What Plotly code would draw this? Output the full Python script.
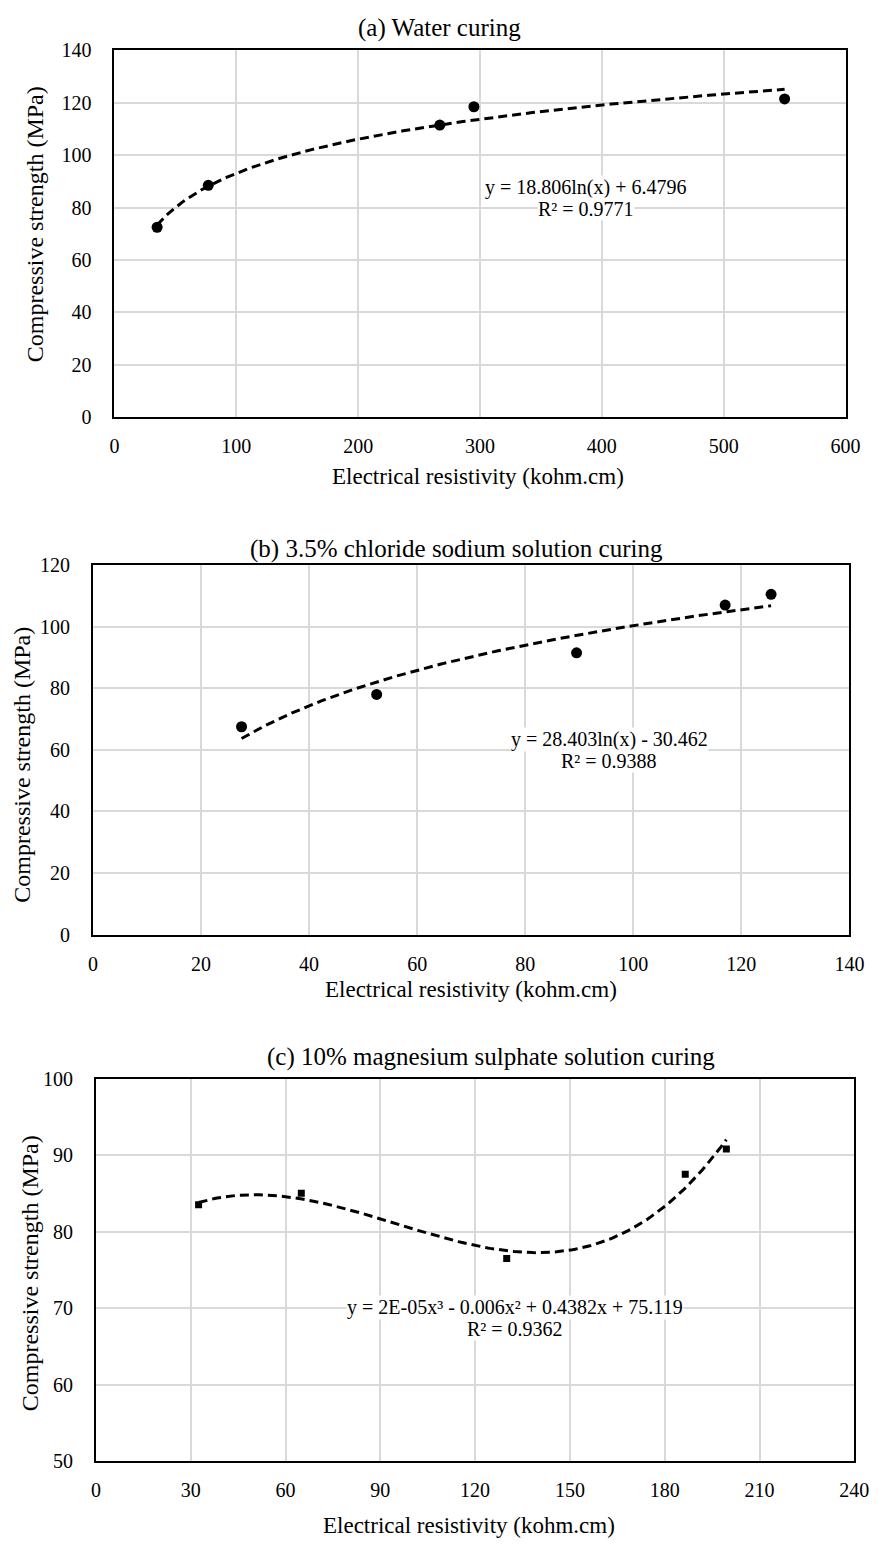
import numpy as np
import plotly.graph_objects as go

# ---- data ----
xa = [35, 77, 267, 295, 550]
ya = [72.5, 88.5, 111.5, 118.5, 121.5]
xb = [27.5, 52.5, 89.5, 117, 125.5]
yb = [67.5, 78, 91.5, 107, 110.5]
xc = [32.5, 65, 130, 186.5, 199.5]
yc = [83.5, 85, 76.5, 87.5, 90.8]

titles = ["(a) Water curing", "(b) 3.5% chloride sodium solution curing",
          "(c) 10% magnesium sulphate solution curing"]
eq1 = ["y = 18.806ln(x) + 6.4796", "y = 28.403ln(x) - 30.462",
       "y = 2E-05x³ - 0.006x² + 0.4382x + 75.119"]
eq2 = ["R² = 0.9771", "R² = 0.9388", "R² = 0.9362"]
xlabel = "Electrical resistivity (kohm.cm)"
ylabel = "Compressive strength (MPa)"

W, H = 883, 1549
FONT = "Liberation Serif, Times New Roman, serif"

def px(x):
    return x / W

def py(y):
    return 1 - y / H

fig = go.Figure()

# trendlines
ta = np.linspace(min(xa), max(xa), 200)
fa = 18.806 * np.log(ta) + 6.4796
tb = np.linspace(min(xb), max(xb), 200)
fb = 28.403 * np.log(tb) - 30.462
coef = np.polyfit(xc, yc, 3)
tc = np.linspace(min(xc), max(xc), 200)
fc = np.polyval(coef, tc)

dash = dict(color="black", width=3, dash="9px,5px")
fig.add_trace(go.Scatter(x=ta, y=fa, mode="lines", line=dash, xaxis="x", yaxis="y"))
fig.add_trace(go.Scatter(x=xa, y=ya, mode="markers", marker=dict(color="black", size=11), xaxis="x", yaxis="y"))
fig.add_trace(go.Scatter(x=tb, y=fb, mode="lines", line=dash, xaxis="x2", yaxis="y2"))
fig.add_trace(go.Scatter(x=xb, y=yb, mode="markers", marker=dict(color="black", size=11), xaxis="x2", yaxis="y2"))
fig.add_trace(go.Scatter(x=tc, y=fc, mode="lines", line=dash, xaxis="x3", yaxis="y3"))
fig.add_trace(go.Scatter(x=xc, y=yc, mode="markers", marker=dict(color="black", size=7, symbol="square"), xaxis="x3", yaxis="y3"))

axcommon = dict(showline=True, linecolor="black", linewidth=2, mirror=True,
                showgrid=True, gridcolor="#d9d9d9", gridwidth=1.5, zeroline=False,
                ticks="", tickfont=dict(family=FONT, size=20, color="black"))

boxes = [
    dict(x0=112, x1=860, y0=412, y1=40, xr=[0, 600], xd=100, yr=[0, 140], yd=20),
    dict(x0=90, x1=864, y0=937, y1=562, xr=[0, 140], xd=20, yr=[0, 120], yd=20),
    dict(x0=93, x1=869, y0=1471, y1=1083, xr=[0, 240], xd=30, yr=[50, 100], yd=10),
]
layout = {}
for i, b in enumerate(boxes):
    s = "" if i == 0 else str(i + 1)
    layout["xaxis" + s] = dict(axcommon, domain=[px(b["x0"]), px(b["x1"])], range=b["xr"], dtick=b["xd"],
                               tick0=0, anchor="y" + s, ticklabelstandoff=10)
    layout["yaxis" + s] = dict(axcommon, domain=[py(b["y0"]), py(b["y1"])], range=b["yr"], dtick=b["yd"],
                               tick0=0, anchor="x" + s, ticklabelstandoff=17)

ann = []
title_pos = [(445, 17), (462, 546), (497, 1061)]
xlab_pos = [(484, 472), (477, 993), (475, 1536)]
ylab_pos = [(31, 216), (18, 765), (25, 1280)]
eq_pos = [(594, 179), (618, 739), (522, 1315)]

def add(text, x, y, size, angle=0, bg=None):
    d = dict(text=text, x=px(x), y=py(y), xref="paper", yref="paper", xanchor="center",
             yanchor="middle", showarrow=False, textangle=angle, borderpad=0,
             font=dict(family=FONT, size=size, color="black"))
    if bg:
        d["bgcolor"] = bg
    ann.append(d)

for i in range(3):
    add(titles[i], *title_pos[i], 25)
    add(xlabel, *xlab_pos[i], 23)
    add(ylabel, *ylab_pos[i], 24, angle=-90)
    add(eq1[i], eq_pos[i][0], eq_pos[i][1], 20, bg="white")
    add(eq2[i], eq_pos[i][0], eq_pos[i][1] + 22, 20, bg="white")

fig.update_layout(width=W, height=H, margin=dict(l=0, r=0, t=0, b=0), showlegend=False,
                  paper_bgcolor="white", plot_bgcolor="white", annotations=ann, **layout)
fig.write_html("out.html")
